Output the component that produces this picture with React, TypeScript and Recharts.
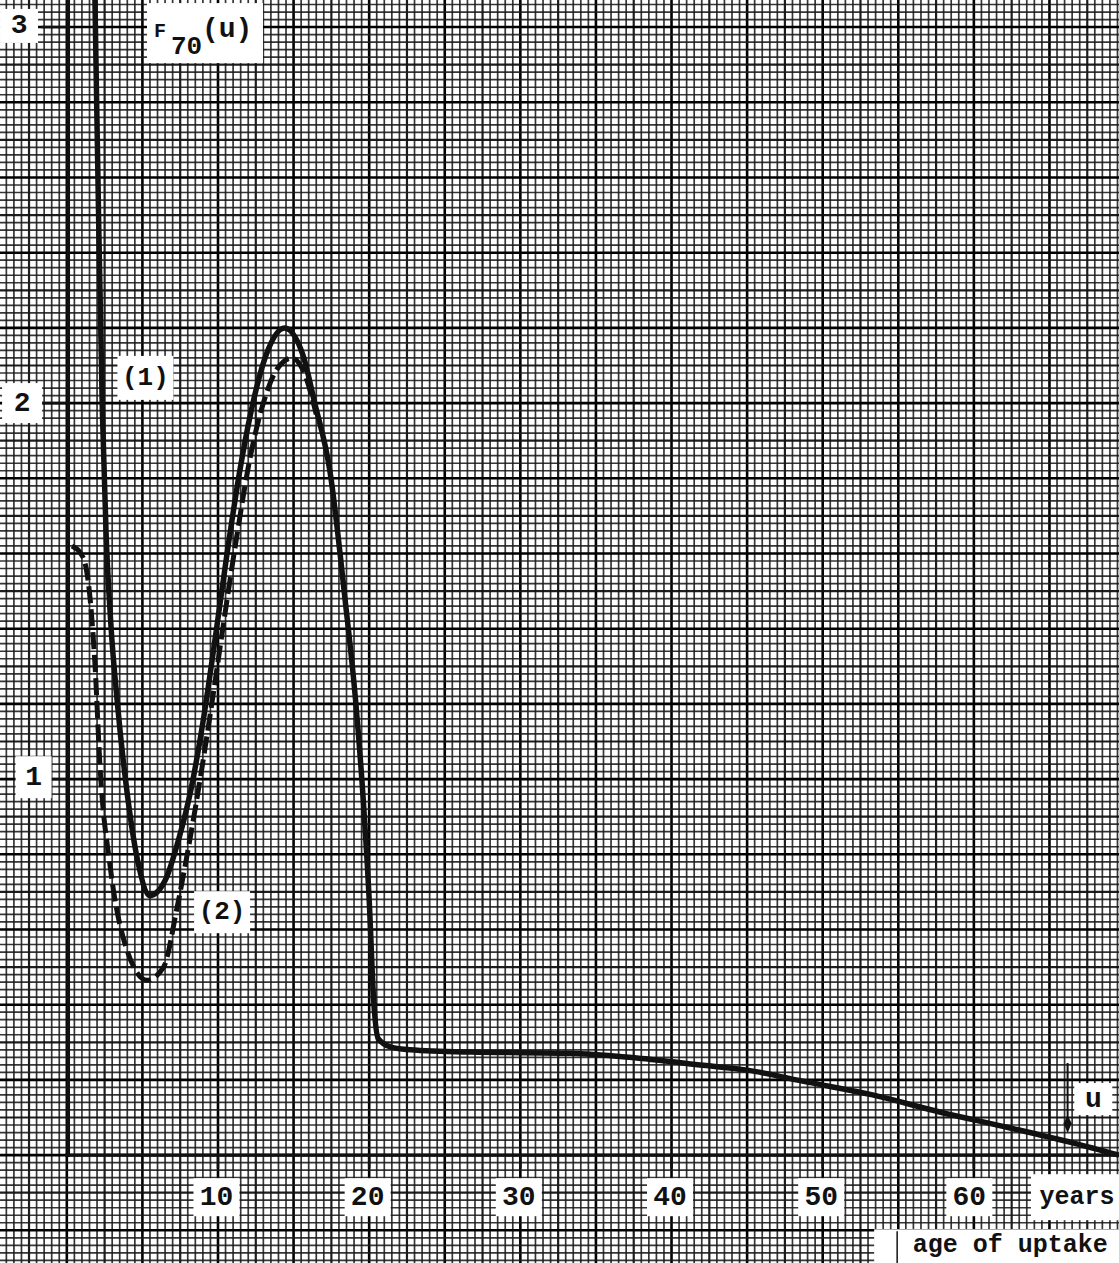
import React from "react";
import { LineChart, Line, XAxis, YAxis, ReferenceLine, ReferenceDot } from "recharts";

// curve (1), solid
const curve1U = [
  1.78, 1.87, 2.1, 2.35, 2.6, 2.9, 3.35, 4.0, 4.7, 5.5, 6.5, 7.4, 8.2, 9.0, 9.8, 10.6, 11.4, 12.2,
  13.2, 14.4, 15.6, 16.4, 17.4, 18.4, 19.1, 19.6, 20.0, 20.3, 20.6, 21.4, 22.7, 26.7, 33.3, 37.7,
  42.1, 45.0, 49.0, 53.3, 57.8, 62.2, 66.6, 69.6,
];
const curve1F = [
  3.25, 3.05, 2.5, 1.98, 1.65, 1.42, 1.2, 0.96, 0.78, 0.69, 0.73, 0.84, 0.97, 1.15, 1.37, 1.6, 1.81,
  1.98, 2.13, 2.2, 2.13, 2.0, 1.82, 1.48, 1.21, 0.95, 0.68, 0.41, 0.31, 0.288, 0.28, 0.274, 0.271,
  0.258, 0.239, 0.226, 0.194, 0.16, 0.114, 0.074, 0.032, 0,
];

// curve (2), dashed
const curve2U = [
  0.34, 1.07, 1.54, 1.87, 2.2, 2.86, 3.98, 5.31, 6.4, 7.3, 8.1, 8.9, 9.7, 10.5, 11.3, 12.1, 13.0,
  13.9, 14.9, 15.8, 16.5,
];
const curve2F = [
  1.62, 1.59, 1.48, 1.3, 1.03, 0.77, 0.545, 0.465, 0.5, 0.66, 0.83, 1.02, 1.23, 1.45, 1.66, 1.85,
  2.0, 2.09, 2.12, 2.07, 1.97,
];

const xTicks = [10, 20, 30, 40, 50, 60];
const yTicks = [1, 2, 3];

const curve1 = curve1U.map((u, i) => ({ u, F: curve1F[i] }));
const curve2 = curve2U.map((u, i) => ({ u, F: curve2F[i] }));

const W = 1119;
const H = 1263;
const X_DOMAIN: [number, number] = [-4.42, 69.6];
const Y_DOMAIN: [number, number] = [-0.287, 3.072];
const INK = "#111";
const FONT = "'Liberation Mono', 'DejaVu Sans Mono', monospace";

// graph paper: 1 mm = 0.5 years across, 0.02 up
function paper(min: number, max: number, step: number) {
  const out: { v: number; level: number }[] = [];
  for (let k = Math.ceil(min / step); k <= Math.floor(max / step); k++) {
    out.push({ v: +(k * step).toFixed(4), level: k % 10 === 0 ? 2 : k % 5 === 0 ? 1 : 0 });
  }
  return out;
}
const vLines = paper(X_DOMAIN[0], X_DOMAIN[1], 0.5);
const hLines = paper(Y_DOMAIN[0], Y_DOMAIN[1], 0.02);
const gridStyle = [
  { stroke: "#1a1a1a", strokeWidth: 1.7, strokeOpacity: 0.88 },
  { stroke: "#111", strokeWidth: 2.2, strokeOpacity: 0.95 },
  { stroke: "#000", strokeWidth: 2.6, strokeOpacity: 1 },
];

const tag =
  (text: string, w: number, h: number, size = 26, dx = 0, dy = 0) =>
  (p: any) => (
    <g>
      <rect x={p.cx - w / 2} y={p.cy - h / 2} width={w} height={h} fill="#fff" />
      <text
        x={p.cx + dx}
        y={p.cy + dy}
        textAnchor="middle"
        dominantBaseline="central"
        fontFamily={FONT}
        fontWeight="bold"
        fontSize={size}
        fill={INK}
      >
        {text}
      </text>
    </g>
  );

const titleTag = (p: any) => (
  <g>
    <rect x={p.cx - 58} y={p.cy - 30} width={116} height={60} fill="#fff" />
    <text fontFamily={FONT} fontWeight="bold" fill={INK}>
      <tspan x={p.cx - 51} y={p.cy + 4} fontSize={20}>F</tspan>
      <tspan x={p.cx - 34} y={p.cy + 21} fontSize={26}>70</tspan>
      <tspan x={p.cx - 3} y={p.cy + 4} fontSize={28}>(u)</tspan>
    </text>
  </g>
);

const arrowHead = (p: any) => (
  <polygon
    points={`${p.cx},${p.cy + 10} ${p.cx - 4},${p.cy} ${p.cx},${p.cy - 8} ${p.cx + 4},${p.cy}`}
    fill={INK}
  />
);

const uptakeTag = (p: any) => (
  <g>
    <rect x={p.cx - 136} y={p.cy - 16} width={250} height={40} fill="#fff" />
    <line x1={p.cx - 113} y1={p.cy - 14} x2={p.cx - 113} y2={p.cy + 24} stroke={INK} strokeWidth={1.5} />
    <text
      x={p.cx}
      y={p.cy}
      textAnchor="middle"
      dominantBaseline="central"
      fontFamily={FONT}
      fontWeight="bold"
      fontSize={25}
      fill={INK}
    >
      age of uptake
    </text>
  </g>
);

export default function App() {
  return (
    <div style={{ width: W, height: H, background: "#fff" }}>
      <style>{"body{margin:0}"}</style>
      <LineChart width={W} height={H} margin={{ top: 0, right: 0, bottom: 0, left: 0 }}>
        <XAxis type="number" dataKey="u" domain={X_DOMAIN} allowDataOverflow hide />
        <YAxis type="number" dataKey="F" domain={Y_DOMAIN} allowDataOverflow hide />

        {vLines.map((g) => (
          <ReferenceLine key={"v" + g.v} x={g.v} {...gridStyle[g.level]} />
        ))}
        {hLines.map((g) => (
          <ReferenceLine key={"h" + g.v} y={g.v} {...gridStyle[g.level]} />
        ))}

        {/* axes */}
        <ReferenceLine segment={[{ x: 0.1, y: -0.005 }, { x: 0.1, y: Y_DOMAIN[1] }]} stroke={INK} strokeWidth={3.4} />
        <ReferenceLine segment={[{ x: -0.1, y: 0 }, { x: X_DOMAIN[1], y: 0 }]} stroke={INK} strokeWidth={3.4} />
        {yTicks.map((t) => (
          <ReferenceLine key={"yt" + t} segment={[{ x: -1.7, y: t }, { x: 0, y: t }]} stroke={INK} strokeWidth={2.5} />
        ))}
        {xTicks.map((t) => (
          <ReferenceLine key={"xt" + t} segment={[{ x: t, y: 0 }, { x: t, y: -0.035 }]} stroke={INK} strokeWidth={2.5} />
        ))}
        <ReferenceLine segment={[{ x: 66.2, y: 0.245 }, { x: 66.2, y: 0.08 }]} stroke={INK} strokeWidth={2} />
        <ReferenceDot x={66.2} y={0.085} r={4} shape={arrowHead} />

        <Line
          data={curve2}
          dataKey="F"
          type="monotone"
          stroke={INK}
          strokeWidth={5}
          strokeDasharray="17 6"
          dot={false}
          activeDot={false}
          isAnimationActive={false}
        />
        <Line
          data={curve1}
          dataKey="F"
          type="monotone"
          stroke={INK}
          strokeWidth={5.5}
          dot={false}
          activeDot={false}
          isAnimationActive={false}
        />

        {/* labels */}
        <ReferenceDot x={9.14} y={2.984} r={1} shape={titleTag} />
        <ReferenceDot x={-3.16} y={3.003} r={1} shape={tag(String(yTicks[2]), 38, 34, 28)} />
        <ReferenceDot x={-2.96} y={2.0} r={1} shape={tag(String(yTicks[1]), 40, 40, 28)} />
        <ReferenceDot x={-2.2} y={1.005} r={1} shape={tag(String(yTicks[0]), 36, 42, 28)} />
        <ReferenceDot x={5.2} y={2.067} r={1} shape={tag("(1)", 56, 44, 26)} />
        <ReferenceDot x={10.27} y={0.646} r={1} shape={tag("(2)", 56, 42, 26)} />
        {xTicks.map((t) => (
          <ReferenceDot
            key={"xl" + t}
            x={t - (t === 60 ? 0.3 : 0.1)}
            y={-0.112}
            r={1}
            shape={tag(String(t), 46, 38, 28)}
          />
        ))}
        <ReferenceDot x={66.82} y={-0.112} r={1} shape={tag("years", 92, 46, 25)} />
        <ReferenceDot x={62.4} y={-0.24} r={1} shape={uptakeTag} />
        <ReferenceDot x={67.9} y={0.149} r={1} shape={tag("u", 38, 32, 28)} />
      </LineChart>
    </div>
  );
}
